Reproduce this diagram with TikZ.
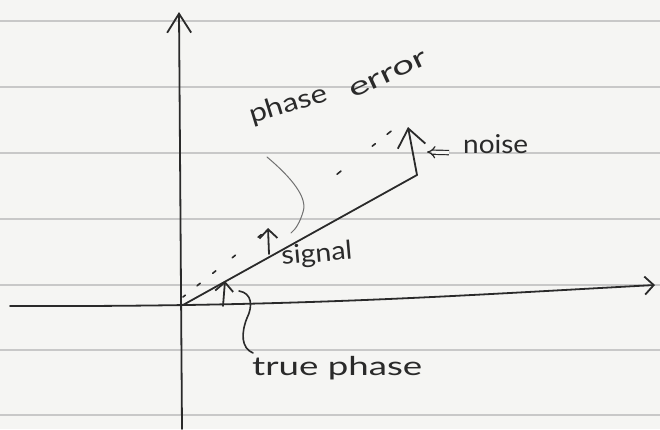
\documentclass[tikz,border=0pt]{standalone}
\usepackage{fontspec}
\setmainfont{Lato}
\usepackage{graphicx}
\usetikzlibrary{arrows.meta}
\definecolor{paper}{HTML}{F5F5F3}
\definecolor{rulecol}{HTML}{C8C8C8}
\definecolor{ink}{HTML}{2A2A2A}
\definecolor{pencil}{HTML}{707070}
\tikzset{
  pen/.style={draw=ink, line width=1.8pt, line cap=round, line join=round},
  thinpen/.style={draw=pencil, line width=1pt, line cap=round},
  ruled/.style={draw=rulecol, line width=1.3pt},
  bigbarb/.style={-{Straight Barb[length=18pt,width=28pt]}},
  axbarb/.style={-{Straight Barb[length=19pt,width=24pt]}},
  smallbarb/.style={-{Straight Barb[length=9pt,width=18pt]}},
  estdash/.style={draw=ink, line width=1.6pt, line cap=round,
    dash pattern=on 3pt off 15pt on 4pt off 16pt on 4pt off 21pt on 4pt off 29pt on 4pt off 97pt on 5pt off 40pt on 4pt off 15pt on 5pt off 30pt},
  dblarrow/.style={draw=ink, line width=1.2pt, double=paper, double distance=3pt, -{Implies}},
  hand/.style={font=\fontsize{26}{30}\selectfont, text=ink, inner sep=0pt}
}
\begin{document}
\begin{tikzpicture}[x=1pt,y=-1pt]
\useasboundingbox[fill=paper] (0,0) rectangle (660,429);
\foreach \yy in {21,87,153,219,285,350,415} \draw[ruled] (0,\yy) -- (660,\yy);

% axes
\coordinate (ybot) at (182,429);
\coordinate (ytop) at (179,12);
\coordinate (xl) at (10,306);
\coordinate (xr) at (655,285);
\draw[pen, axbarb] (ybot) -- (ytop);
\draw[pen, -{Straight Barb[length=9pt,width=18pt]}] (xl) .. controls (300,307) and (450,296) .. (xr);

% phasors
\coordinate (O) at (183,305);
\coordinate (S) at (417,175);
\coordinate (N) at (408,127);
\coordinate (E0) at (183,297);
\coordinate (E) at (395,128);
\draw[pen] (O) -- (S);
\draw[pen, bigbarb] (S) -- (N);
\draw[estdash] (E0) -- (E);

% angle arrows
\coordinate (PA0) at (269,254);
\coordinate (PA1) at (268,228);
\draw[pen, smallbarb] (PA0) -- (PA1);
\coordinate (TA0) at (223,306);
\coordinate (TA1) at (225,281);
\draw[pen, smallbarb] (TA0) -- (TA1);

% labels
\node[hand, anchor=base west, rotate=17] (lblphase) at (252,124) {\resizebox{80pt}{\height}{phase}};
\node[hand, anchor=base west, rotate=25] (lblerror) at (353,99) {\resizebox{84pt}{\height}{error}};
\node[hand, anchor=base west, rotate=5] (lblsignal) at (282,265) {\resizebox{71pt}{\height}{signal}};
\node[hand, anchor=base west] (lblnoise) at (463,153) {\resizebox{65pt}{\height}{noise}};
\node[hand, anchor=base west] (lbltrue) at (252,375) {\resizebox{170pt}{\height}{true phase}};

% leaders
\coordinate (PL0) at (267,157);
\coordinate (PL1) at (291,233);
\draw[thinpen] (PL0) .. controls (292,178) and (308,198) .. (303,212) .. controls (300,222) and (296,229) .. (PL1);
\coordinate (TL0) at (239,291);
\coordinate (TL1) at (253,353);
\draw[pen, line width=1.6pt] (TL0) .. controls (252,293) and (253,306) .. (247,318) .. controls (241,333) and (241,348) .. (TL1);
\coordinate (NA) at (427,152);
\draw[dblarrow, shorten <=14pt] (lblnoise.base west) -- (NA);
\end{tikzpicture}
\end{document}
